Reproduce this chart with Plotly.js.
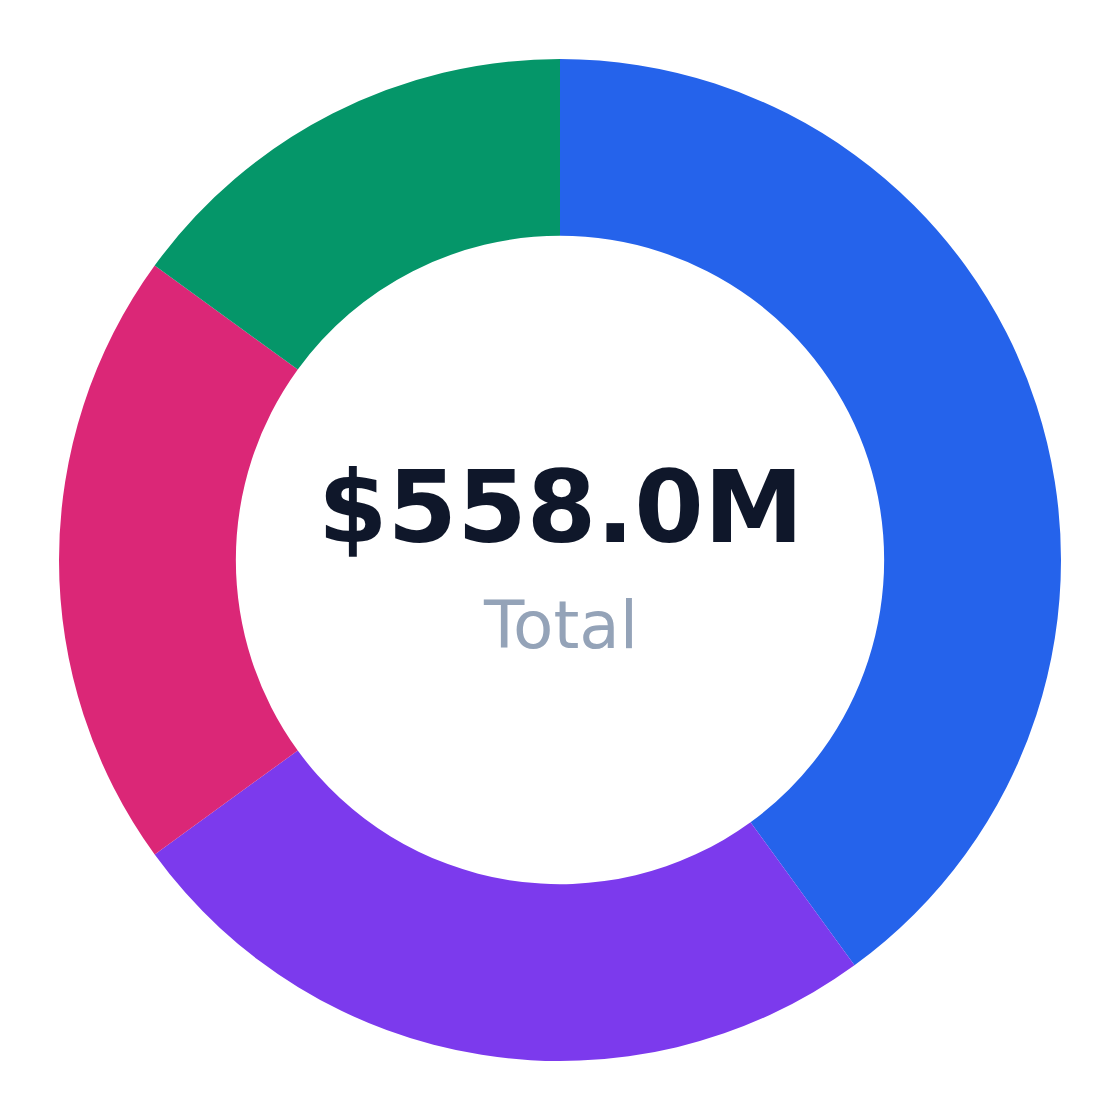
<!DOCTYPE html>
<html>
<head>
<meta charset="utf-8">
<script src="https://cdn.plot.ly/plotly-3.0.1.min.js"></script>
<style>html,body{margin:0;padding:0;background:#fff;}#chart{width:1120px;height:1120px;}</style>
</head>
<body>
<div id="chart"></div>
<script>
const labels = ["Segment A", "Segment B", "Segment C", "Segment D"];
const values = [223.2, 139.5, 111.6, 83.7];
const colors = ["#2563eb", "#7c3aed", "#db2777", "#059669"];
const totalLabel = "$558.0M";
const subLabel = "Total";

const trace = {
  type: "pie",
  labels: labels,
  values: values,
  hole: 0.647,
  sort: false,
  direction: "clockwise",
  rotation: 0,
  textinfo: "none",
  hoverinfo: "label+value+percent",
  marker: { colors: colors, line: { width: 0 } },
  showlegend: false
};

const layout = {
  width: 1120,
  height: 1120,
  margin: { l: 59, r: 59, t: 59, b: 59 },
  paper_bgcolor: "#ffffff",
  plot_bgcolor: "#ffffff",
  showlegend: false,
  font: { family: "DejaVu Sans" },
  annotations: [
    { text: "<b>" + totalLabel + "</b>", x: 0.5, y: 0.552, xref: "paper", yref: "paper",
      xanchor: "center", yanchor: "middle", showarrow: false,
      font: { family: "DejaVu Sans", size: 100, color: "#0f172a" } },
    { text: subLabel, x: 0.5, y: 0.435, xref: "paper", yref: "paper",
      xanchor: "center", yanchor: "middle", showarrow: false,
      font: { family: "DejaVu Sans", size: 66, color: "#94a3b8" } }
  ]
};

Plotly.newPlot("chart", [trace], layout, { displayModeBar: false, staticPlot: true });
</script>
</body>
</html>
